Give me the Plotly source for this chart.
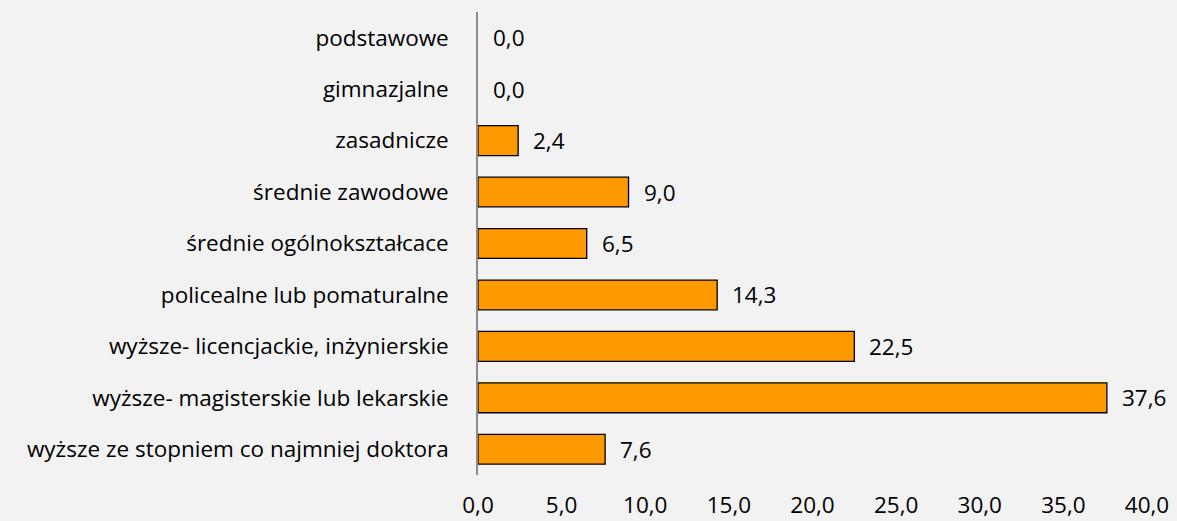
import plotly.graph_objects as go

categories = [
    "podstawowe",
    "gimnazjalne",
    "zasadnicze",
    "średnie zawodowe",
    "średnie ogólnokształcace",
    "policealne lub pomaturalne",
    "wyższe- licencjackie, inżynierskie",
    "wyższe- magisterskie lub lekarskie",
    "wyższe ze stopniem co najmniej doktora",
]
values = [0.0, 0.0, 2.4, 9.0, 6.5, 14.3, 22.5, 37.6, 7.6]
tick_vals = [0, 5, 10, 15, 20, 25, 30, 35, 40]
tick_text = ["0,0", "5,0", "10,0", "15,0", "20,0", "25,0", "30,0", "35,0", "40,0"]

FONT = "Open Sans"
FS = 22.5

fig = go.Figure()
fig.add_trace(go.Bar(
    x=values, y=categories, orientation="h",
    marker=dict(
        color="#FF9900",
        line=dict(color="#000000", width=[0 if v == 0 else 1.3 for v in values]),
    ),
    width=0.58,
))

for c, v in zip(categories, values):
    fig.add_annotation(
        x=v, y=c, text=f"{v:.1f}".replace(".", ","),
        xanchor="left", yanchor="middle", xshift=13, showarrow=False,
        font=dict(family=FONT, size=FS, color="#000000"),
    )

fig.update_layout(
    width=1177, height=521,
    margin=dict(l=478, r=30, t=12, b=46),
    paper_bgcolor="#F2F2F2", plot_bgcolor="#F2F2F2",
    showlegend=False,
    font=dict(family=FONT, size=FS, color="#000000"),
)
fig.update_xaxes(
    range=[0, 40], tickvals=tick_vals, ticktext=tick_text,
    showgrid=False, zeroline=False, showline=False, ticks="",
    ticklabelstandoff=14, automargin=False,
    tickfont=dict(family=FONT, size=FS, color="#000000"),
)
fig.update_yaxes(
    autorange="reversed", showgrid=False, zeroline=False,
    showline=True, linecolor="#8C8C8C", linewidth=1.5, ticks="",
    ticklabelstandoff=23, automargin=False,
    tickfont=dict(family=FONT, size=FS, color="#000000"),
)

fig.write_html(
    "out.html",
    config={"displayModeBar": False},
    post_script="document.body.style.margin='0';document.body.style.background='#F2F2F2';",
)
